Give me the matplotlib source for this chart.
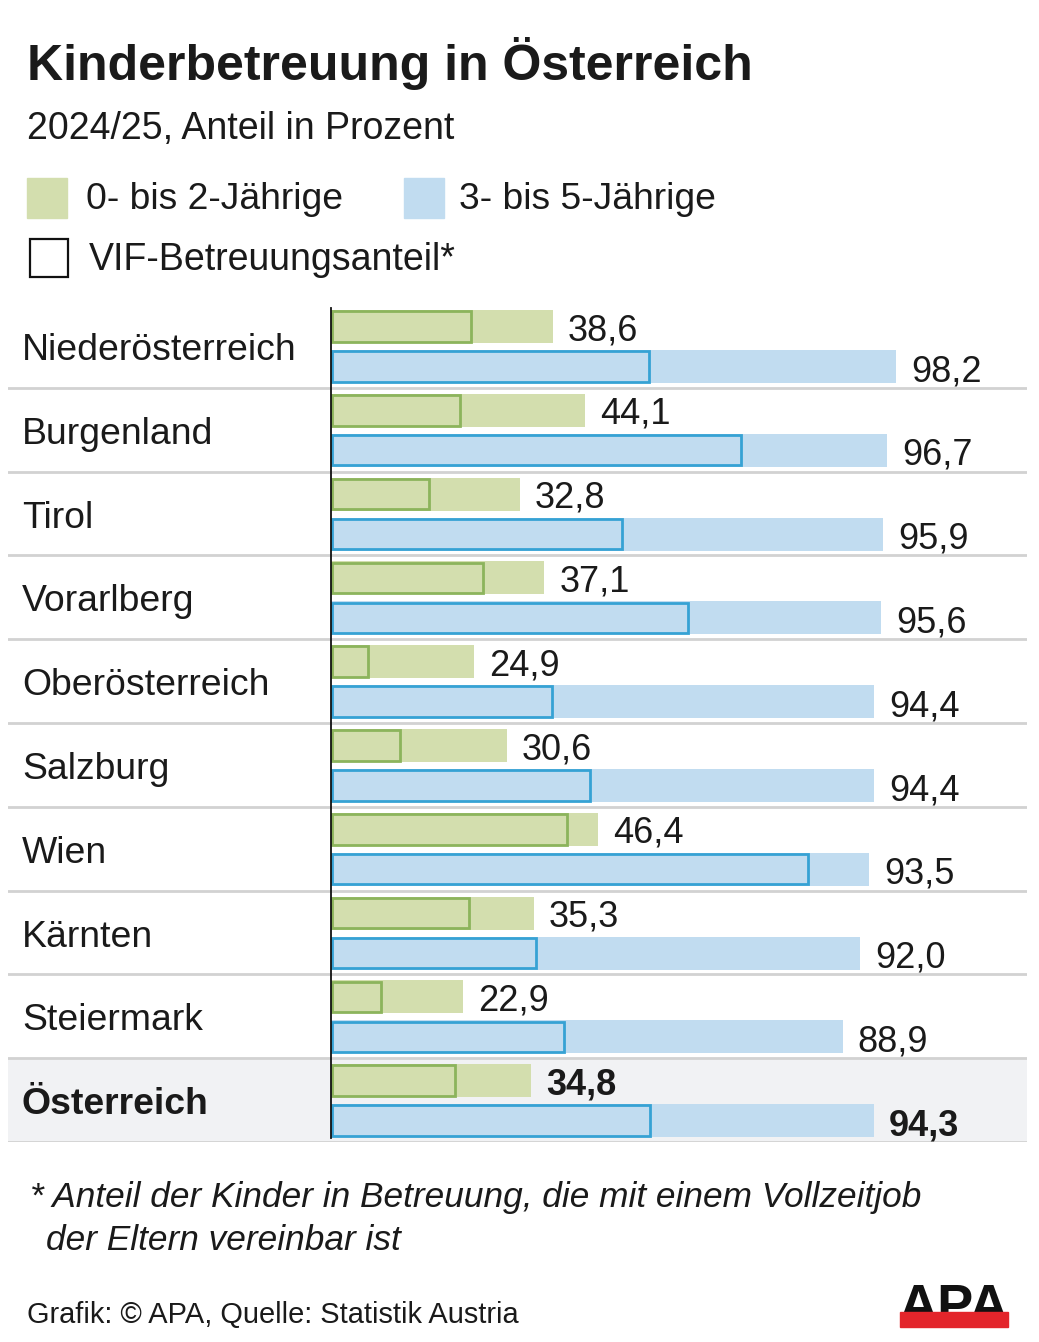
#!/usr/bin/env python3

'''
Kinderbetreuung in Oesterreich 2024/25 - horizontal bar chart in APA style.
'''

import matplotlib
matplotlib.use('Agg')
import matplotlib.pyplot as plt
from matplotlib.patches import Rectangle

regions = ['Niederösterreich', 'Burgenland', 'Tirol', 'Vorarlberg',
           'Oberösterreich', 'Salzburg', 'Wien', 'Kärnten', 'Steiermark',
           'Österreich']
age_0_2 = [38.6, 44.1, 32.8, 37.1, 24.9, 30.6, 46.4, 35.3, 22.9, 34.8]
age_3_5 = [98.2, 96.7, 95.9, 95.6, 94.4, 94.4, 93.5, 92.0, 88.9, 94.3]
# VIF share
vif_0_2 = [24.3, 22.4, 17.0, 26.4, 6.4, 12.0, 41.0, 24.0, 8.7, 21.5]
vif_3_5 = [55.3, 71.3, 50.6, 62.0, 38.4, 45.0, 82.9, 35.6, 40.5, 55.4]

GREEN = '#d3deae'
GREEN_EDGE = '#8cb45c'
BLUE = '#c1dcf0'
BLUE_EDGE = '#36a2d4'
TEXT = '#1a1a1a'
FONT = 'Liberation Sans'

W, H = 1039, 1342
plt.rcParams['font.family'] = [FONT, 'DejaVu Sans']

fig = plt.figure(figsize=(W / 100, H / 100), dpi=100)


def px(x, y):
    '''pixel position (from top left) -> figure fraction'''
    return x / W, 1 - y / H


# axes over the table area, 0 % sits at x=331 px
left, right, top, bottom = 8, 1027, 304, 1142
scale = 5.754  # px per percent
ax = fig.add_axes([left / W, 1 - bottom / H, (right - left) / W,
                   (bottom - top) / H])
ax.set_xlim(-(331 - left) / scale, (right - 331) / scale)
ax.set_ylim(len(regions), 0)
ax.axis('off')

n = len(regions)
bar_h = 0.394
g_pos = [i + 0.268 for i in range(n)]
b_pos = [i + 0.745 for i in range(n)]

# total row highlighted
ax.axhspan(n - 1, n, color='#f1f2f4', zorder=0, lw=0)
for i in range(1, n + 1):
    ax.axhline(i, color='#d2d2d2', lw=2, zorder=1)

ax.barh(g_pos, age_0_2, height=bar_h, color=GREEN, zorder=2)
ax.barh(b_pos, age_3_5, height=bar_h, color=BLUE, zorder=2)
ax.barh(g_pos, [v - 0.25 for v in vif_0_2], left=0.25, height=bar_h - 0.03,
        facecolor='none', edgecolor=GREEN_EDGE, lw=2.0, zorder=3)
ax.barh(b_pos, [v - 0.25 for v in vif_3_5], left=0.25, height=bar_h - 0.03,
        facecolor='none', edgecolor=BLUE_EDGE, lw=2.0, zorder=3)
ax.plot([0, 0], [0.05, n - 0.05], color='#111111', lw=1.3, zorder=4)

label_x = -(331 - 22) / scale
for i, name in enumerate(regions):
    weight = 'bold' if i == n - 1 else 'normal'
    ax.text(label_x, i + 0.668, name, fontsize=26.9, color=TEXT,
            fontweight=weight, va='baseline', ha='left')
    ax.text(age_0_2[i] + 2.6, i + 0.43, f'{age_0_2[i]:.1f}'.replace('.', ','),
            fontsize=26, color=TEXT, fontweight=weight, va='baseline')
    ax.text(age_3_5[i] + 2.6, i + 0.919, f'{age_3_5[i]:.1f}'.replace('.', ','),
            fontsize=26, color=TEXT, fontweight=weight, va='baseline')

# header
fig.text(*px(27, 80), 'Kinderbetreuung in Österreich', fontsize=36,
         fontweight='bold', color=TEXT, va='baseline')
fig.text(*px(27, 139), '2024/25, Anteil in Prozent', fontsize=27,
         color=TEXT, va='baseline')

# legend
fig.patches.append(Rectangle(px(27, 218), 40 / W, 40 / H, color=GREEN,
                             transform=fig.transFigure))
fig.text(*px(86, 209), '0- bis 2-Jährige', fontsize=26.8, color=TEXT,
         va='baseline')
fig.patches.append(Rectangle(px(404, 218), 40 / W, 40 / H, color=BLUE,
                             transform=fig.transFigure))
fig.text(*px(459, 209), '3- bis 5-Jährige', fontsize=26.8, color=TEXT,
         va='baseline')
fig.patches.append(Rectangle(px(30, 277), 38 / W, 38 / H, facecolor='white',
                             edgecolor='#111111', lw=1.6,
                             transform=fig.transFigure))
fig.text(*px(89, 270), 'VIF-Betreuungsanteil*', fontsize=27, color=TEXT,
         va='baseline')

# footnote and source
fig.text(*px(30, 1207),
         '* Anteil der Kinder in Betreuung, die mit einem Vollzeitjob',
         fontsize=25.4, style='italic', color=TEXT, va='baseline')
fig.text(*px(46, 1250), 'der Eltern vereinbar ist', fontsize=25.4,
         style='italic', color=TEXT, va='baseline')
fig.text(*px(27, 1323), 'Grafik: © APA, Quelle: Statistik Austria',
         fontsize=20.9, color=TEXT, va='baseline')

# APA logo
fig.text(*px(954, 1322), 'APA', fontsize=39, fontweight='bold',
         color='#111111', ha='center', va='baseline')
fig.patches.append(Rectangle(px(900, 1327), 108 / W, 15 / H,
                             color='#e3252b', transform=fig.transFigure,
                             zorder=10))

fig.savefig('out.png', dpi=100, facecolor='white')
